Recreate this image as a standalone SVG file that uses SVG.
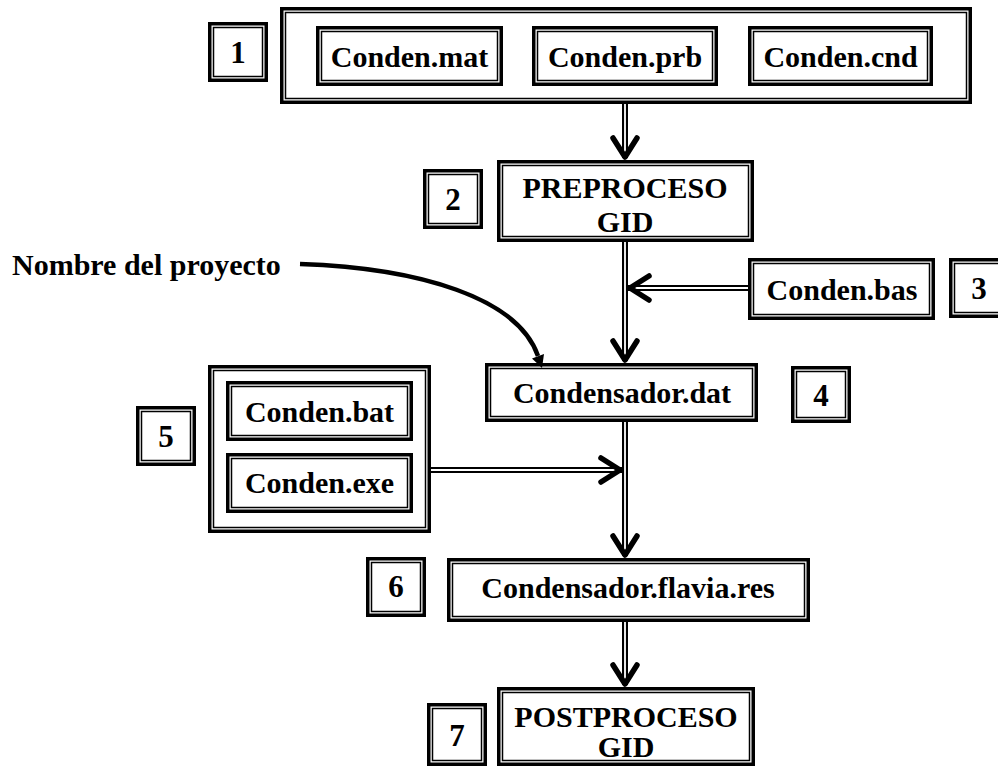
<svg xmlns="http://www.w3.org/2000/svg" width="998" height="767" viewBox="0 0 998 767">
<style>
.o{fill:#fff;stroke:#000;stroke-width:3.5}
.i{fill:none;stroke:#000;stroke-width:1.5}
text{font-family:"Liberation Serif","Times New Roman",serif;font-weight:bold;font-size:30px;fill:#000;text-anchor:middle}
.d{font-size:31px}
.lb{stroke:#000;stroke-width:6;fill:none}
.lw{stroke:#fff;stroke-width:1.8;fill:none}
.ah{stroke:#000;stroke-width:5.5;fill:none;stroke-linecap:round;stroke-linejoin:round}
</style>
<rect width="998" height="767" fill="#fff"/>
<g id="label1"><rect class="o" x="209.75" y="23.75" width="56.5" height="56.5"/><rect class="i" x="213.5" y="27.5" width="49" height="49"/><text class="d" x="238" y="63">1</text></g>
<g id="group1"><rect class="o" x="281.75" y="8.75" width="688.5" height="93.5"/><rect class="i" x="285.5" y="12.5" width="681" height="86"/></g>
<g id="mat"><rect class="o" x="317.75" y="27.75" width="183.5" height="56.5"/><rect class="i" x="321.5" y="31.5" width="176" height="49"/><text x="409.5" y="67">Conden.mat</text></g>
<g id="prb"><rect class="o" x="533.75" y="27.75" width="182.5" height="56.5"/><rect class="i" x="537.5" y="31.5" width="175" height="49"/><text x="625" y="67">Conden.prb</text></g>
<g id="cnd"><rect class="o" x="749.75" y="27.75" width="181.5" height="56.5"/><rect class="i" x="753.5" y="31.5" width="174" height="49"/><text x="840.5" y="67">Conden.cnd</text></g>
<g id="pre"><rect class="o" x="498.75" y="161.75" width="253.5" height="78.5"/><rect class="i" x="502.5" y="165.5" width="246" height="71"/><text x="625" y="198">PREPROCESO</text><text x="625" y="232">GID</text></g>
<g id="label2"><rect class="o" x="424.75" y="170.75" width="56.5" height="56.5"/><rect class="i" x="428.5" y="174.5" width="49" height="49"/><text class="d" x="453" y="210">2</text></g>
<g id="bas"><rect class="o" x="749.75" y="259.75" width="183.5" height="58.5"/><rect class="i" x="753.5" y="263.5" width="176" height="51"/><text x="842" y="300">Conden.bas</text></g>
<g id="label3"><rect class="o" x="950.75" y="259.75" width="56.5" height="56.5"/><rect class="i" x="954.5" y="263.5" width="49" height="49"/><text class="d" x="979" y="299">3</text></g>
<g id="nombre"><text x="12" y="275" style="text-anchor:start">Nombre del proyecto</text></g>
<g id="dat"><rect class="o" x="486.75" y="364.75" width="269.5" height="55.5"/><rect class="i" x="490.5" y="368.5" width="262" height="48"/><text x="622" y="403">Condensador.dat</text></g>
<g id="label4"><rect class="o" x="792.75" y="367.75" width="56.5" height="53.5"/><rect class="i" x="796.5" y="371.5" width="49" height="46"/><text class="d" x="821" y="406">4</text></g>
<g id="group5"><rect class="o" x="209.75" y="366.75" width="219.5" height="164.5"/><rect class="i" x="213.5" y="370.5" width="212" height="157"/></g>
<g id="bat"><rect class="o" x="227.75" y="382.75" width="183.5" height="56.5"/><rect class="i" x="231.5" y="386.5" width="176" height="49"/><text x="319.5" y="422">Conden.bat</text></g>
<g id="exe"><rect class="o" x="227.75" y="454.75" width="183.5" height="56.5"/><rect class="i" x="231.5" y="458.5" width="176" height="49"/><text x="319.5" y="493">Conden.exe</text></g>
<g id="label5"><rect class="o" x="137.75" y="407.75" width="56.5" height="56.5"/><rect class="i" x="141.5" y="411.5" width="49" height="49"/><text class="d" x="166" y="447">5</text></g>
<g id="flavia"><rect class="o" x="448.75" y="559.75" width="359.5" height="60.5"/><rect class="i" x="452.5" y="563.5" width="352" height="53"/><text x="628" y="598">Condensador.flavia.res</text></g>
<g id="label6"><rect class="o" x="367.75" y="558.75" width="56.5" height="56.5"/><rect class="i" x="371.5" y="562.5" width="49" height="49"/><text class="d" x="396" y="597">6</text></g>
<g id="post"><rect class="o" x="498.75" y="688.75" width="254.5" height="75.5"/><rect class="i" x="502.5" y="692.5" width="247" height="68"/><text x="626" y="727">POSTPROCESO</text><text x="626" y="757">GID</text></g>
<g id="label7"><rect class="o" x="428.75" y="704.75" width="56.5" height="59.5"/><rect class="i" x="432.5" y="708.5" width="49" height="52"/><text class="d" x="457" y="746">7</text></g>
<g id="connectors">
<path class="lb" d="M625,104V158M625,242V361M625,422V556M625,622V685M748,288H628M431,470H622"/>
<path class="lw" d="M625,104V156M625,242V359M625,422V554M625,622V683M748,288H630M431,470H620"/>
<path class="ah" d="M613,138L625,157L637,138M613,341L625,360L637,341M613,536L625,555L637,536M613,665L625,684L637,665M649,276L630,288L649,300M601,458L620,470L601,482"/>
<path d="M300,264C420,268 518,298 538,356" fill="none" stroke="#000" stroke-width="4.5"/>
<polygon points="542,368 544,354 532,358.5" fill="#000"/>
</g>
</svg>
